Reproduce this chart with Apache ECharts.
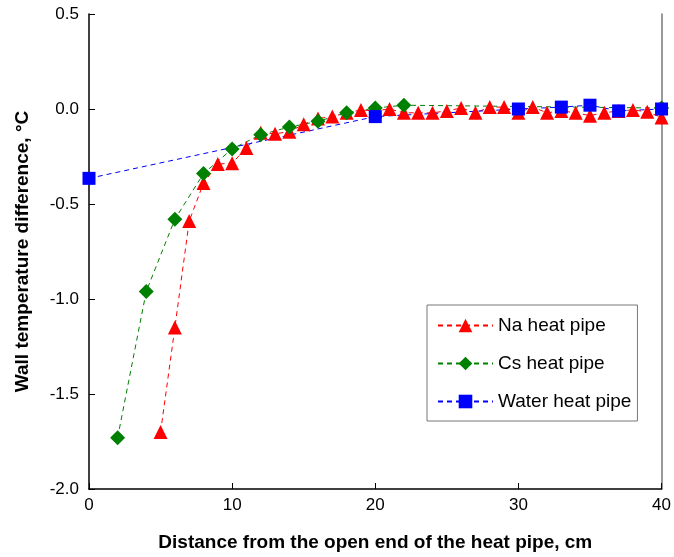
<!DOCTYPE html>
<html>
<head>
<meta charset="utf-8">
<script src="https://cdn.jsdelivr.net/npm/echarts@6/dist/echarts.min.js"></script>
<style>
  html, body { margin: 0; padding: 0; background: #fff; }
  #myChart { width: 674px; height: 557px; }
</style>
</head>
<body>
<div id="myChart"></div>
<script>
"use strict";
// x positions (cm) and wall temperature differences (°C)
var naX = [5, 6, 7, 8, 9, 10, 11, 12, 13, 14, 15, 16, 17, 18, 19, 20, 21, 22, 23, 24, 25, 26, 27, 28, 29, 30, 31, 32, 33, 34, 35, 36, 37, 38, 39, 40];
var naY = [-1.70, -1.15, -0.59, -0.39, -0.29, -0.285, -0.205, -0.125, -0.13, -0.12, -0.08, -0.05, -0.04, -0.02, -0.005, -0.01, 0.0, -0.02, -0.02, -0.02, -0.01, 0.005, -0.02, 0.01, 0.01, -0.02, 0.01, -0.02, -0.01, -0.02, -0.035, -0.02, -0.01, -0.005, -0.015, -0.045];

var csX = [2, 4, 6, 8, 10, 12, 14, 16, 18, 20, 22, 40];
var csY = [-1.73, -0.96, -0.58, -0.34, -0.21, -0.135, -0.095, -0.065, -0.02, 0.005, 0.02, 0.005];

var waterX = [0, 20, 30, 33, 35, 37, 40];
var waterY = [-0.365, -0.04, 0.0, 0.01, 0.02, -0.01, 0.0];

var seriesNames = ['Na heat pipe', 'Cs heat pipe', 'Water heat pipe'];

var FONT = "'Liberation Sans', Arial, sans-serif";

function pairs(xs, ys) {
    var arr = [];
    for (var i = 0; i < xs.length; i++) {
        arr.push([xs[i], ys[i]]);
    }
    return arr;
}

function makeSeries(name, data, color, symbol, size) {
    return {
        name: name,
        type: 'line',
        data: data,
        symbol: symbol,
        symbolSize: size,
        itemStyle: { color: color },
        lineStyle: { color: color, width: 1, type: [5, 4] },
        animation: false
    };
}

var myChart = echarts.init(document.getElementById('myChart'));

var option = {
    backgroundColor: '#fff',
    textStyle: { fontFamily: FONT },
    grid: { left: 89, right: 7, top: 14, bottom: 67 },
    legend: {
        orient: 'vertical',
        left: 427,
        top: 305,
        padding: [11, 6, 10, 10],
        itemGap: 19,
        itemWidth: 55,
        itemHeight: 17,
        borderColor: '#777',
        borderWidth: 1,
        textStyle: { fontSize: 19, color: '#000', fontFamily: FONT },
        data: seriesNames
    },
    xAxis: {
        type: 'value',
        min: 0,
        max: 40,
        interval: 10,
        name: 'Distance from the open end of the heat pipe, cm',
        nameLocation: 'middle',
        nameGap: 44,
        nameTextStyle: { fontSize: 19, fontWeight: 'bold', color: '#000', fontFamily: FONT },
        axisLine: { onZero: false, lineStyle: { color: '#000', width: 1.5 } },
        axisTick: { inside: true, length: 6, lineStyle: { color: '#000' } },
        axisLabel: { fontSize: 17, color: '#000', margin: 8, fontFamily: FONT },
        splitLine: { show: false }
    },
    yAxis: [
        {
            type: 'value',
            min: -2,
            max: 0.5,
            interval: 0.5,
            name: 'Wall temperature difference, °C',
            nameLocation: 'middle',
            nameGap: 57,
            nameTextStyle: { fontSize: 19, fontWeight: 'bold', color: '#000', fontFamily: FONT },
            axisLine: { show: true, onZero: false, lineStyle: { color: '#000', width: 1.5 } },
            axisTick: { show: true, inside: true, length: 6, lineStyle: { color: '#000' } },
            axisLabel: {
                fontSize: 17, color: '#000', margin: 10, fontFamily: FONT,
                formatter: function (v) { return v.toFixed(1); }
            },
            splitLine: { show: false }
        },
        {
            // right frame line only
            type: 'value',
            min: -2,
            max: 0.5,
            interval: 0.5,
            position: 'right',
            axisLine: { show: true, onZero: false, lineStyle: { color: '#777', width: 1.5 } },
            axisTick: { show: false },
            axisLabel: { show: false },
            splitLine: { show: false }
        }
    ],
    series: [
        makeSeries(seriesNames[0], pairs(naX, naY), '#ff0000', 'triangle', 14),
        makeSeries(seriesNames[1], pairs(csX, csY), '#008000', 'diamond', 15),
        makeSeries(seriesNames[2], pairs(waterX, waterY), '#0000ff', 'rect', 13)
    ]
};

myChart.setOption(option);
</script>
</body>
</html>
